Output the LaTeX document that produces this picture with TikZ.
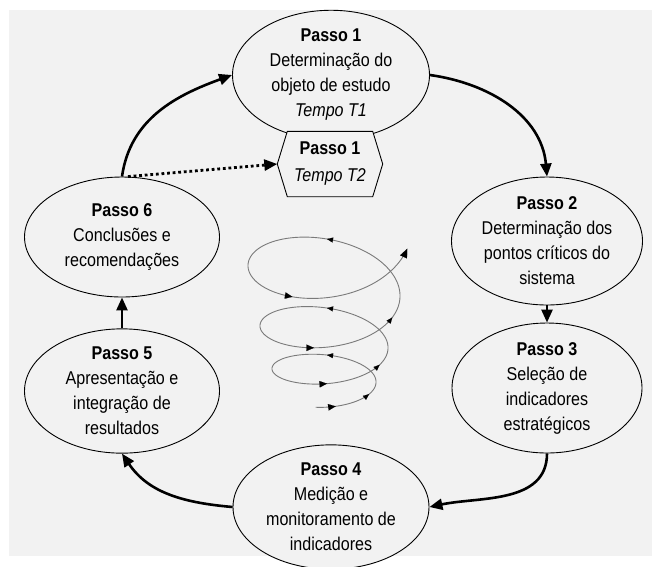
\documentclass[tikz,border=0pt]{standalone}
\usepackage{fontspec}
\setmainfont{Liberation Sans}[FakeStretch=0.87]
\usetikzlibrary{arrows.meta,shapes.geometric,calc}
\definecolor{bg}{HTML}{F2F2F2}
\definecolor{spiralgray}{HTML}{7A7A7A}
\begin{document}
\begin{tikzpicture}[x=1pt,y=-1pt,
  declare function={
    cyf(\u)=388.7-21*\u-8.75*\u*\u;
    ryf(\u)=18.44+4*\u+2.25*\u*\u;
    rxf(\u)=46+12*\u;
    spx(\u)=327+rxf(\u)*sin(360*\u);
    spy(\u)=cyf(\u)+ryf(\u)*cos(360*\u);
  },
  stepnode/.style={ellipse, draw, line width=0.9pt, fill=bg, inner sep=0pt, align=center,
    font=\fontsize{18.5}{25}\selectfont},
  hexnode/.style={rectangle, inner sep=0pt, align=center, minimum width=105pt, minimum height=65pt,
    font=\fontsize{18.5}{27}\selectfont},
  flow/.style={line width=2.6pt, -{Triangle[length=13pt,width=11pt]}},
  dotflow/.style={line width=2.8pt, dash pattern=on 2.8pt off 2.8pt, -{Triangle[length=13pt,width=11pt]}},
  spiral/.style={line width=0.9pt, draw=spiralgray},
  smalltip/.style={line width=0.1pt, -{Triangle[length=6pt,width=5pt]}},
  bigtip/.style={line width=0.1pt, -{Triangle[length=7.5pt,width=6.5pt]}},
]
\useasboundingbox (0,0) rectangle (652,566);
\fill[white] (0,0) rectangle (652,566);
\fill[bg] (9,10) rectangle (652,556);

% nodes
\node[stepnode, minimum width=197pt, minimum height=118pt] (p1) at (331,75)
  {\textbf{Passo 1}\\Determinação do\\objeto de estudo\\\textit{Tempo T1}};
\node[hexnode] (hx) at (330,164) {};
\filldraw[fill=bg, line width=0.9pt]
  (hx.west) -- ([xshift=10pt]hx.north west) -- ([xshift=-10pt]hx.north east)
  -- (hx.east) -- ([xshift=-10pt]hx.south east) -- ([xshift=10pt]hx.south west) -- cycle;
\node[hexnode] at (hx.center) {\textbf{Passo 1}\\\textit{Tempo T2}};
\node[stepnode, minimum width=191pt, minimum height=128pt] (p2) at (547,241)
  {\textbf{Passo 2}\\Determinação dos\\pontos críticos do\\sistema};
\node[stepnode, minimum width=190pt, minimum height=130pt] (p3) at (547,388)
  {\textbf{Passo 3}\\Seleção de\\indicadores\\estratégicos};
\node[stepnode, minimum width=196pt, minimum height=108pt] (p4) at (331,507)
  {\textbf{Passo 4}\\Medição e\\monitoramento de\\indicadores};
\node[stepnode, minimum width=195pt, minimum height=124pt] (p5) at (122,391)
  {\textbf{Passo 5}\\Apresentação e\\integração de\\resultados};
\node[stepnode, minimum width=195pt, minimum height=120pt] (p6) at (122,237)
  {\textbf{Passo 6}\\Conclusões e\\recomendações};

% connectors
\draw[flow] (p6.north) to[out=82, in=200] (p1.west);
\draw[dotflow] ([xshift=6pt]p6.north) -- (hx.west);
\draw[flow] (p1.east) to[out=-8, in=95] (p2.north);
\draw[flow] (p2.south) -- (p3.north);
\draw[flow] (p3.south) to[out=-90, in=12] (p4.east);
\draw[flow] (p4.west) to[out=175, in=-56] (p5.south);
\draw[flow] (p5.north) -- (p6.south);

% spiral
\draw[spiral] plot[domain=-0.04:3.2, samples=500, smooth, variable=\u] ({spx(\u)},{spy(\u)});
\foreach \a in {0.5,1.5,2.5,0.17,1.17,2.18} {
  \path ({spx(\a-0.003)},{spy(\a-0.003)}) coordinate (sa) ({spx(\a)},{spy(\a)}) coordinate (sb);
  \draw[smalltip] ($(sb)!6.5pt!(sa)$) -- (sb);
}
\foreach \a in {0.03,1.0,1.97,2.93} {
  \path ({spx(\a-0.003)},{spy(\a-0.003)}) coordinate (sa) ({spx(\a)},{spy(\a)}) coordinate (sb);
  \draw[bigtip] ($(sb)!7.5pt!(sa)$) -- (sb);
}
\path ({spx(3.197)},{spy(3.197)}) coordinate (sa) ({spx(3.2)},{spy(3.2)}) coordinate (sb);
\draw[line width=0.1pt, -{Triangle[length=9pt,width=7.5pt]}] ($(sb)!9pt!(sa)$) -- (sb);
\end{tikzpicture}
\end{document}
